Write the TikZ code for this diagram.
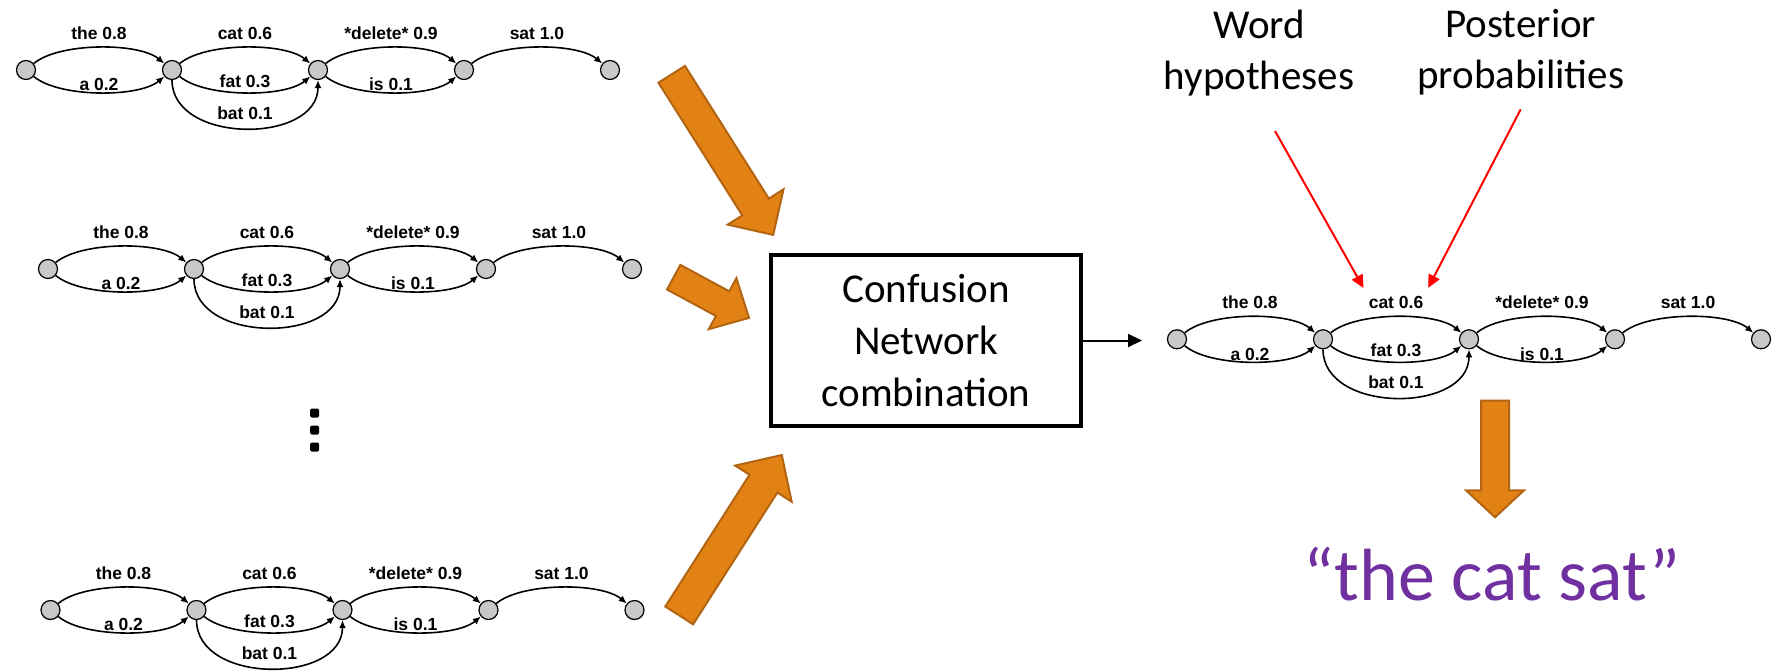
\documentclass[tikz,border=0pt]{standalone}
\usepackage{fontspec}
\setmainfont{Carlito}
\newfontfamily\lblfont{Liberation Sans}
\usetikzlibrary{arrows.meta}

\definecolor{arrfill}{RGB}{227,130,20}
\definecolor{arrline}{RGB}{178,100,18}
\definecolor{quotepurple}{RGB}{112,48,160}
\definecolor{nodegray}{RGB}{200,200,200}

\newcommand{\lblsize}{\lblfont\bfseries\fontsize{17.5}{20}\selectfont}

\tikzset{
  lnode/.style={circle, draw, line width=1.2pt, fill=nodegray, minimum size=19pt, inner sep=0pt},
  wordarc/.style={line width=1.6pt, -{Latex[length=8pt,width=7pt]}},
  up/.style={bend left=40, looseness=0.65},
  down/.style={bend right=40, looseness=0.65},
  toplbl/.style={pos=0.5, above=7pt, inner sep=0pt, font=\lblsize},
  botlbl/.style={pos=0.5, above=#1, inner sep=0pt, font=\lblsize},
  botlbl/.default=0.5pt,
  fatarr/.style={fill=arrfill, draw=arrline, line width=2pt},
  bigtxt/.style={align=center, inner sep=0pt, font=\fontsize{41}{51}\selectfont},
  cnbox/.style={draw, line width=3.3pt, minimum width=310pt, minimum height=171pt,
    align=center, font=\fontsize{41}{52}\selectfont},
  redarr/.style={red, line width=2pt, -{Triangle[length=13pt,width=12pt]}, shorten >=9pt},
  blackarr/.style={line width=2pt, -{Triangle[length=14pt,width=13pt]}}
}

% one confusion network: prefix, x and y of the first node
\newcommand{\cnet}[3]{%
  \begin{scope}[shift={(#2,#3)}]
    \foreach \i in {0,...,4}
      \node[lnode] (#1\i) at (\i*146,0) {};
    \draw[wordarc] (#10) to[up] node[toplbl] {the 0.8} (#11);
    \draw[wordarc] (#10) to[down] node[botlbl] {a 0.2} (#11);
    \draw[wordarc] (#11) to[up] node[toplbl] (#1cat) {cat 0.6} (#12);
    \draw[wordarc] (#11) to[down] node[botlbl=4pt] {fat 0.3} (#12);
    \draw[wordarc] (#11) to[out=-90, in=-90, looseness=1.13] node[botlbl=8pt] {bat 0.1} (#12);
    \draw[wordarc] (#12) to[up] node[toplbl] {*delete* 0.9} (#13);
    \draw[wordarc] (#12) to[down] node[botlbl] {is 0.1} (#13);
    \draw[wordarc] (#13) to[up] node[toplbl] {sat 1.0} (#14);
  \end{scope}}

% block arrow: tail, angle, length, shaft half width, head half width, head length
\newcommand{\blockarrow}[6]{%
  \draw[fatarr, shift={(#1)}, rotate=#2]
    (0,-#4) -- ({#3-#6},-#4) -- ({#3-#6},-#5) -- (#3,0)
    -- ({#3-#6},#5) -- ({#3-#6},#4) -- (0,#4) -- cycle;}

\begin{document}
\begin{tikzpicture}[x=1pt, y=1pt]
  \useasboundingbox (0,0) rectangle (1774,-671);

  % the input networks
  \cnet{top}{26}{-70}
  \cnet{mid}{48}{-269}
  \cnet{bot}{50.5}{-610}
  \foreach \d in {413,430,447}
    \fill[rounded corners=1.5pt] (310,-\d-4.5) rectangle (319,-\d+4.5);

  % merging them
  \blockarrow{671.7,-74.3}{-57.7}{190}{15.7}{33}{33}
  \blockarrow{673.7,-277.2}{-28.4}{85.6}{14}{29}{30}
  \blockarrow{679.2,-615.4}{57.4}{190.4}{16.5}{33.5}{34}

  \node[cnbox] (combine) at (926,-340.5) {Confusion\\Network\\combination};
  \coordinate (outin) at (1142,-340.5);
  \draw[blackarr] (combine.east) -- (outin);

  % the result
  \cnet{out}{1177}{-339.3}

  \node[bigtxt] (wordhyp) at (1259,-53) {Word\\hypotheses};
  \node[bigtxt] (postprob) at (1520.8,-52) {Posterior\\probabilities};
  \coordinate (wordfoot) at (1275,-131);
  \coordinate (postfoot) at (1520.7,-109.3);
  \draw[redarr] (wordfoot) -- (outcat.north west);
  \draw[redarr] (postfoot) -- (outcat.north east);

  \blockarrow{1495,-400.7}{-90}{116.6}{14}{29}{27}
  \node[anchor=base, text=quotepurple, inner sep=0pt,
    font=\fontsize{74}{80}\selectfont] (result) at (1492,-600) {“the cat sat”};
\end{tikzpicture}
\end{document}
